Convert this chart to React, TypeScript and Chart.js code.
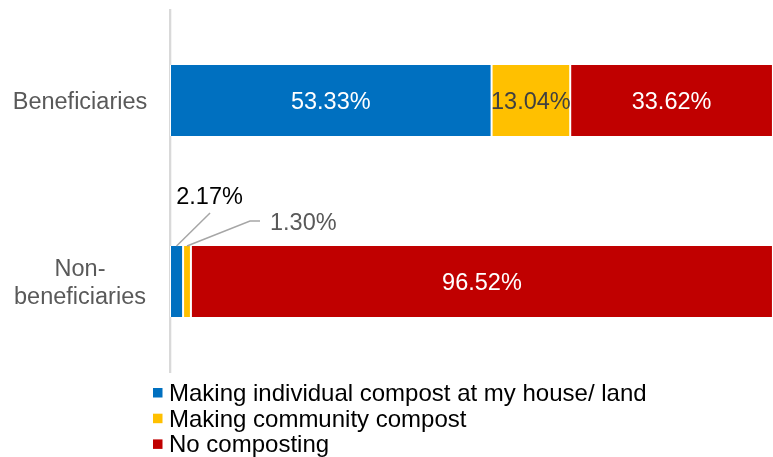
import React, { useEffect, useRef } from 'react';
import { Chart, registerables } from 'chart.js';

Chart.register(...registerables);

const categories: (string | string[])[] = ['Beneficiaries', ['Non-', 'beneficiaries']];
const seriesNames = [
  'Making individual compost at my house/ land',
  'Making community compost',
  'No composting',
];
const individualCompost = [53.33, 2.17];
const communityCompost = [13.04, 1.3];
const noComposting = [33.62, 96.52];

const colors = ['#0070C0', '#FFC000', '#C00000'];
const insideLabelColors = ['#FFFFFF', '#404040', '#FFFFFF'];
const FONT = '"Liberation Sans", Arial, Helvetica, sans-serif';
const FONT_SIZE = 23.5;

const valueLabels = {
  id: 'valueLabels',
  afterDatasetsDraw(chart: any) {
    const ctx = chart.ctx as CanvasRenderingContext2D;
    ctx.save();
    ctx.font = `${FONT_SIZE}px ${FONT}`;
    ctx.textBaseline = 'alphabetic';
    chart.data.datasets.forEach((ds: any, di: number) => {
      const meta = chart.getDatasetMeta(di);
      meta.data.forEach((el: any, i: number) => {
        const v = ds.data[i] as number;
        const text = v.toFixed(2) + '%';
        const { x, y, base, height } = el.getProps(['x', 'y', 'base', 'height'], true);
        const cx = (x + base) / 2;
        if (v >= 5) {
          ctx.fillStyle = insideLabelColors[di];
          ctx.textAlign = 'center';
          ctx.fillText(text, cx, y + 8.6);
        } else {
          const top = y - height / 2;
          ctx.strokeStyle = '#A6A6A6';
          ctx.lineWidth = 1.5;
          ctx.beginPath();
          if (di === 0) {
            ctx.moveTo(cx, top);
            ctx.lineTo(cx + 33.5, top - 33);
            ctx.stroke();
            ctx.fillStyle = '#000000';
            ctx.textAlign = 'center';
            ctx.fillText(text, cx + 33, top - 42);
          } else {
            ctx.moveTo(cx, top);
            ctx.lineTo(cx + 63, top - 25);
            ctx.lineTo(cx + 73, top - 25);
            ctx.stroke();
            ctx.fillStyle = '#595959';
            ctx.textAlign = 'left';
            ctx.fillText(text, cx + 83, top - 16.5);
          }
        }
      });
    });
    ctx.restore();
  },
};

const categoryLabels = {
  id: 'categoryLabels',
  afterDraw(chart: any) {
    const ctx = chart.ctx as CanvasRenderingContext2D;
    const yScale = chart.scales.y;
    ctx.save();
    ctx.font = `${FONT_SIZE}px ${FONT}`;
    ctx.fillStyle = '#595959';
    ctx.textAlign = 'center';
    ctx.textBaseline = 'alphabetic';
    const lineH = 28.3;
    const cx = yScale.right - 22 - 68;
    (chart.data.labels as any[]).forEach((lab: any, i: number) => {
      const lines: string[] = Array.isArray(lab) ? lab : [lab];
      const py = yScale.getPixelForTick(i);
      const start = py - ((lines.length - 1) * lineH) / 2;
      lines.forEach((ln, k) => {
        ctx.fillText(ln, cx, start + k * lineH + 8.4);
      });
    });
    ctx.restore();
  },
};

const verticalLegend = {
  id: 'verticalLegend',
  afterDraw(chart: any) {
    const ctx = chart.ctx as CanvasRenderingContext2D;
    const area = chart.chartArea;
    ctx.save();
    ctx.font = `24px ${FONT}`;
    ctx.textAlign = 'left';
    ctx.textBaseline = 'alphabetic';
    const rowStep = 25.7;
    chart.data.datasets.forEach((ds: any, di: number) => {
      const baseline = area.bottom + 29 + di * rowStep;
      ctx.fillStyle = ds.backgroundColor;
      ctx.fillRect(area.left - 17, baseline - 13, 9.5, 9.5);
      ctx.fillStyle = '#000000';
      ctx.fillText(ds.label, area.left - 1, baseline);
    });
    ctx.restore();
  },
};

export default function App() {
  const canvasRef = useRef<HTMLCanvasElement | null>(null);

  useEffect(() => {
    const canvas = canvasRef.current;
    if (!canvas) return;
    const seriesValues = [individualCompost, communityCompost, noComposting];
    const chart = new Chart(canvas, {
      type: 'bar',
      data: {
        labels: categories as any,
        datasets: seriesValues.map((vals, i) => ({
          label: seriesNames[i],
          data: vals,
          backgroundColor: colors[i],
          borderColor: '#FFFFFF',
          borderWidth: { left: 1, right: 1, top: 0, bottom: 0 },
          borderSkipped: false,
          barPercentage: 0.392,
          categoryPercentage: 1,
        })),
      },
      options: {
        indexAxis: 'y',
        animation: false,
        responsive: true,
        maintainAspectRatio: false,
        layout: { padding: { top: 10, bottom: 85, left: 0, right: 0 } },
        plugins: {
          legend: { display: false },
          tooltip: { enabled: false },
        },
        scales: {
          x: {
            stacked: true,
            display: false,
            min: 0,
            max: 100,
          },
          y: {
            stacked: true,
            grid: { display: false, drawTicks: false },
            border: { display: true, color: '#D9D9D9', width: 2.3 },
            ticks: { display: false },
            afterFit: (scale: any) => {
              scale.width = 170;
            },
          },
        },
      },
      plugins: [valueLabels, categoryLabels, verticalLegend],
    } as any);
    return () => chart.destroy();
  }, []);

  return (
    <div style={{ position: 'fixed', left: 0, top: 0, width: 773, height: 457, background: '#FFFFFF' }}>
      <canvas ref={canvasRef} />
    </div>
  );
}
